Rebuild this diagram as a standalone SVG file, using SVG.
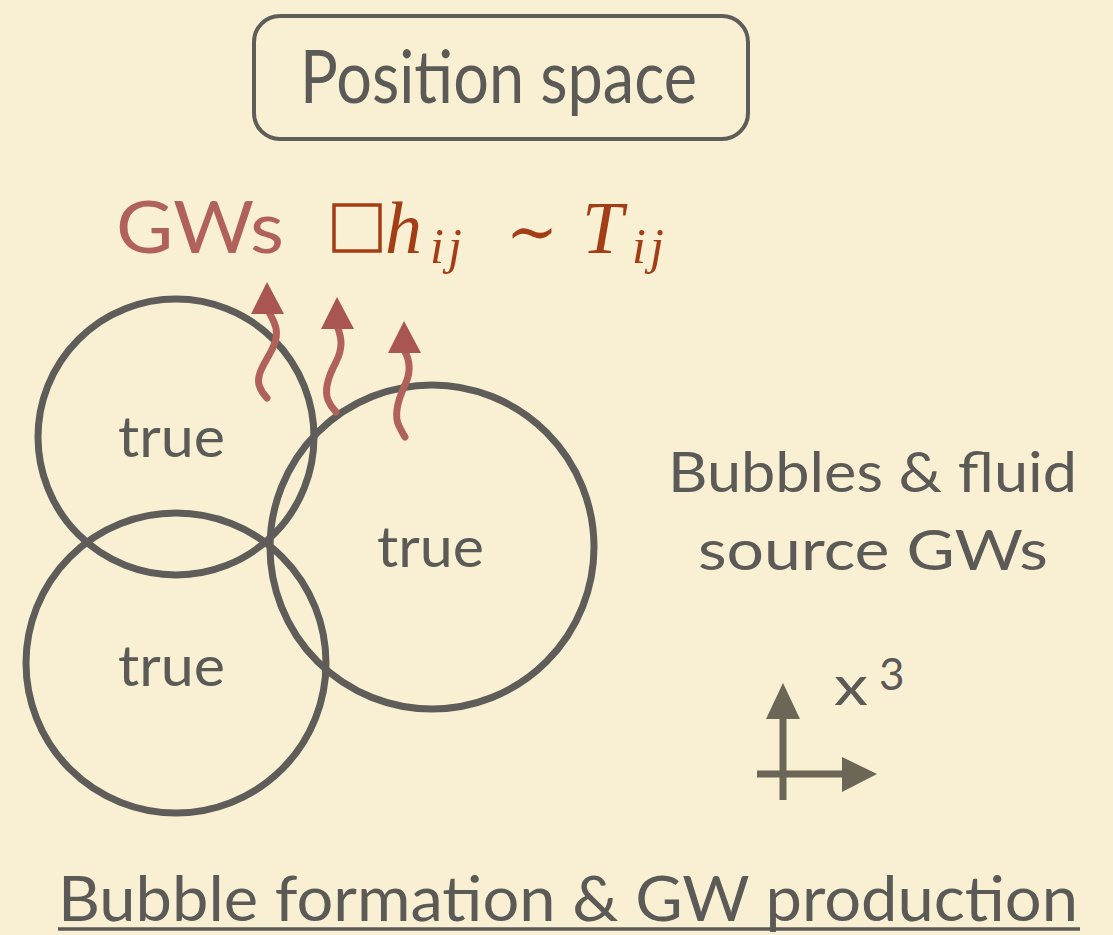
<svg xmlns="http://www.w3.org/2000/svg" width="1113" height="935" viewBox="0 0 1113 935">
<defs>
<style>
.t{font-family:Lato,"Open Sans","Liberation Sans",sans-serif;fill:#5b5a57}
.bub{fill:none;stroke:#5f5d5a;stroke-width:7}
.gw{fill:none;stroke:#b0625a;stroke-width:7;stroke-linecap:round}
.gwh{fill:#a8564f}
.ax{stroke:#6b6656;stroke-width:7;fill:none}
.axh{fill:#6b6656}
.m{font-family:"Liberation Serif","DejaVu Serif",serif;fill:#a33d15}
</style>
</defs>
<rect width="1113" height="935" fill="#f9f0d3"/>
<g id="title-box">
<rect x="254" y="16" width="494" height="123" rx="26" fill="none" stroke="#5f5d5a" stroke-width="4"/>
<text class="t" x="300" y="103" font-size="74" textLength="397" lengthAdjust="spacingAndGlyphs">Position space</text>
</g>
<g id="gw-label">
<text x="116" y="253" font-family="Lato,'Open Sans',sans-serif" font-size="72" fill="#b0625a" textLength="168" lengthAdjust="spacingAndGlyphs">GWs</text>
<rect x="334" y="205" width="46" height="46" fill="none" stroke="#a33d15" stroke-width="3.5"/>
<text class="m" x="385" y="253" font-size="74" font-style="italic">h</text>
<text class="m" x="430" y="263" font-size="50" font-style="italic" letter-spacing="4">ij</text>
<text class="m" x="506" y="254" font-size="66" textLength="52" lengthAdjust="spacingAndGlyphs">∼</text>
<text class="m" x="582" y="253" font-size="74" font-style="italic">T</text>
<text class="m" x="632" y="263" font-size="50" font-style="italic" letter-spacing="4">ij</text>
</g>
<g id="bubble-1">
<circle class="bub" cx="176" cy="437" r="138"/>
<text class="t" x="118" y="457" font-size="56" textLength="107" lengthAdjust="spacingAndGlyphs">true</text>
</g>
<g id="bubble-2">
<circle class="bub" cx="176" cy="663" r="150"/>
<text class="t" x="118" y="686" font-size="56" textLength="107" lengthAdjust="spacingAndGlyphs">true</text>
</g>
<g id="bubble-3">
<circle class="bub" cx="432" cy="547" r="162"/>
<text class="t" x="377" y="567" font-size="56" textLength="107" lengthAdjust="spacingAndGlyphs">true</text>
</g>
<g id="gw-arrows">
<path class="gw" d="M268 310 C274 322 280 330 274 345 C268 360 256 372 259 385 C261 391 264 395 267 398"/>
<polygon class="gwh" points="267,282 284,314 251,314"/>
<path class="gw" d="M337 326 C342 338 343 348 336 362 C328 377 324 390 328 400 C330 405 333 409 336 412"/>
<polygon class="gwh" points="337,297 354,329 321,329"/>
<path class="gw" d="M404 350 C410 360 411 372 405 385 C397 402 394 416 399 426 C401 430 403 434 405 437"/>
<polygon class="gwh" points="404,321 421,353 388,353"/>
</g>
<g id="description">
<text class="t" x="668" y="492" font-size="56" textLength="409" lengthAdjust="spacingAndGlyphs">Bubbles &amp; fluid</text>
<text class="t" x="698" y="570" font-size="56" textLength="350" lengthAdjust="spacingAndGlyphs">source GWs</text>
</g>
<g id="axes">
<line class="ax" x1="783" y1="800" x2="783" y2="715"/>
<polygon class="axh" points="783,683 800,719 766,719"/>
<line class="ax" x1="757" y1="774" x2="845" y2="774"/>
<polygon class="axh" points="877,774 842,757 842,792"/>
<text class="t" x="834" y="705" font-size="54" textLength="34" lengthAdjust="spacingAndGlyphs">x</text>
<text class="t" x="879" y="690" font-size="44">3</text>
</g>
<g id="caption">
<text class="t" x="58" y="921" font-size="62" textLength="1020" lengthAdjust="spacingAndGlyphs">Bubble formation &amp; GW production</text>
<line x1="58" y1="929" x2="1080" y2="929" stroke="#5b5a57" stroke-width="3.5"/>
</g>
</svg>
